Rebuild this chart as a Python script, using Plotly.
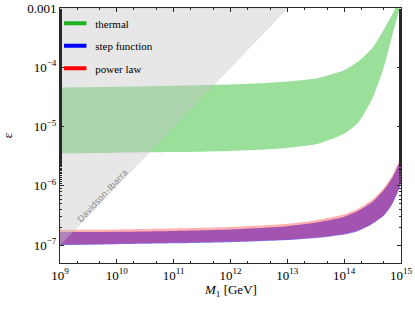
import numpy as np
import plotly.graph_objects as go

# ---- data (log10 values) ----
logM = [9.0, 10.0, 11.0, 12.0, 12.5, 13.0, 13.5, 14.0, 14.25, 14.5, 14.7, 14.85, 15.0]

thermal_hi = [-4.34, -4.33, -4.31, -4.29, -4.27, -4.24, -4.19, -4.05, -3.90, -3.67, -3.36, -3.10, -2.80]
thermal_lo = [-5.45, -5.44, -5.43, -5.41, -5.39, -5.36, -5.30, -5.12, -4.93, -4.52, -3.99, -3.45, -2.90]

step_hi = [-6.78, -6.775, -6.76, -6.735, -6.71, -6.68, -6.62, -6.52, -6.42, -6.27, -6.07, -5.86, -5.58]
step_lo = [-7.00, -6.985, -6.97, -6.95, -6.935, -6.915, -6.88, -6.82, -6.76, -6.64, -6.50, -6.30, -5.95]

power_hi = [-6.74, -6.735, -6.72, -6.695, -6.67, -6.64, -6.58, -6.48, -6.38, -6.23, -6.03, -5.82, -5.54]
power_lo = [-6.99, -6.975, -6.96, -6.94, -6.925, -6.905, -6.87, -6.81, -6.75, -6.63, -6.49, -6.29, -5.94]

# Davidson-Ibarra bound line (M1 in GeV, epsilon max)
di_M = [1e9, 1e13]
di_eps = [1e-7, 1e-3]

y_range = [np.log10(5e-8), -3.0]
x_ticks = [9, 10, 11, 12, 13, 14, 15]
y_ticks = [-7, -6, -5, -4, -3]
y_ticktext = ["10<sup>\u22127</sup>", "10<sup>\u22126</sup>", "10<sup>\u22125</sup>", "10<sup>\u22124</sup>", "0.001"]

SERIF = "Liberation Serif"

M = 10 ** np.array(logM)


def band(lo, hi, color):
    xs = np.concatenate([M, M[::-1]])
    ys = np.concatenate([10 ** np.array(hi), (10 ** np.array(lo))[::-1]])
    return go.Scatter(x=xs, y=ys, fill="toself", fillcolor=color, mode="lines",
                      line=dict(width=0, shape="spline", smoothing=0.6),
                      hoverinfo="skip", showlegend=False)


fig = go.Figure()
fig.add_trace(band(thermal_lo, thermal_hi, "rgba(40,190,40,0.47)"))
fig.add_trace(band(step_lo, step_hi, "rgba(0,0,255,0.52)"))
fig.add_trace(band(power_lo, power_hi, "rgba(255,0,0,0.31)"))

# Davidson-Ibarra excluded region (above the bound line)
ytop = 10 ** y_range[1]
fig.add_trace(go.Scatter(
    x=[di_M[0], di_M[1], di_M[0], di_M[0]],
    y=[di_eps[0], di_eps[1], ytop, di_eps[0]],
    fill="toself", fillcolor="rgba(200,200,200,0.43)", mode="lines",
    line=dict(width=0.6, color="rgba(150,150,150,0.35)"),
    hoverinfo="skip", showlegend=False))

# legend entries
for name, col in [("thermal", "rgb(30,180,30)"), ("step function", "rgb(0,0,255)"), ("power law", "rgb(255,0,0)")]:
    fig.add_trace(go.Scatter(x=[None], y=[None], mode="markers", name=name,
                             legendgroup=name,
                             marker=dict(symbol="line-ew", size=16, color=col,
                                         line=dict(width=4, color=col))))

# rotated label along the bound line
fig.add_annotation(x=9.74, y=-6.17, xref="x", yref="y", text="Davidson\u2013Ibarra",
                   showarrow=False, textangle=-46.6,
                   font=dict(family="DejaVu Sans", size=8.5, color="rgb(140,140,140)"))

# x-axis title
fig.add_annotation(x=0.5, y=-0.106, xref="paper", yref="paper", xanchor="center", yanchor="middle",
                   text="<i>M</i><sub>1</sub> [GeV]", showarrow=False,
                   font=dict(family=SERIF, size=13, color="black"))

axis_common = dict(showgrid=False, zeroline=False, showline=True, linecolor="rgb(40,40,40)",
                   linewidth=1, mirror="allticks", ticks="inside", ticklen=4, tickwidth=1,
                   tickcolor="rgb(40,40,40)", automargin=False,
                   minor=dict(ticks="inside", ticklen=2, tickwidth=0.8, tickcolor="rgb(40,40,40)",
                              showgrid=False),
                   tickfont=dict(family=SERIF, size=13, color="black"))

fig.update_xaxes(type="log", range=[9, 15], tickvals=[10 ** v for v in x_ticks],
                 ticktext=["10<sup>%d</sup>" % v for v in x_ticks],
                 **axis_common)
fig.update_yaxes(type="log", range=y_range, tickvals=[10 ** v for v in y_ticks],
                 ticktext=y_ticktext,
                 title=dict(text="\u03b5", font=dict(family=SERIF, size=13, color="black"), standoff=13),
                 **axis_common)

fig.update_layout(width=415, height=309, margin=dict(l=60, r=14, t=8, b=46),
                  plot_bgcolor="white", paper_bgcolor="white",
                  legend=dict(x=-0.014, y=0.997, xanchor="left", yanchor="top", bgcolor="rgba(0,0,0,0)",
                              font=dict(family=SERIF, size=11, color="black"),
                              tracegroupgap=3.5, itemwidth=30))

fig.write_html("out.html", config={"displayModeBar": False},
               post_script="document.body.style.margin='0';document.body.style.overflow='hidden';")
